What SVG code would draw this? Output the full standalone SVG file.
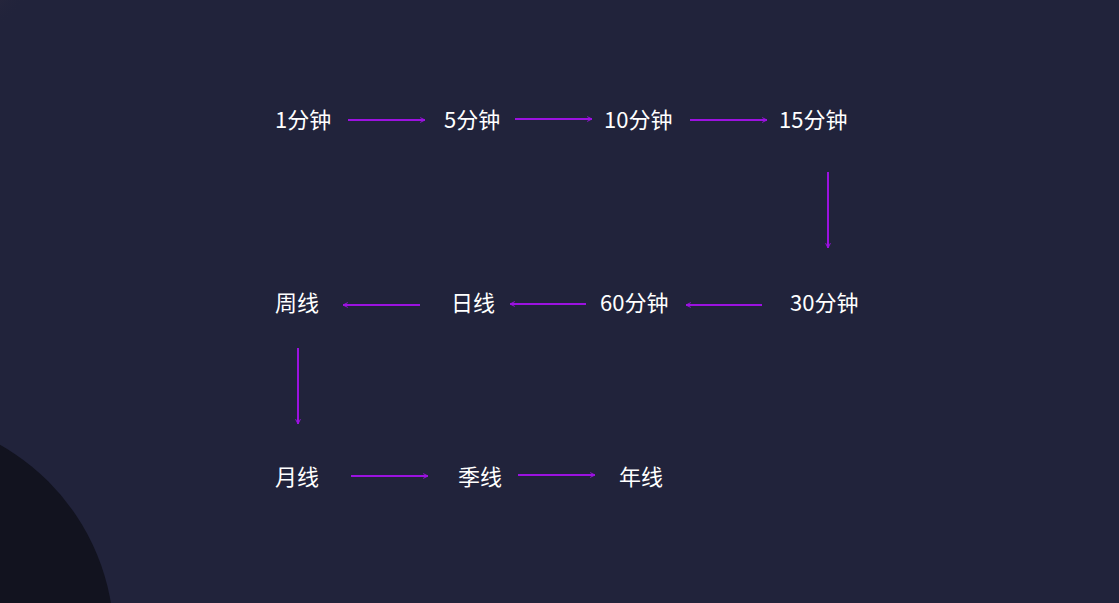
<svg xmlns="http://www.w3.org/2000/svg" width="1119" height="603" viewBox="0 0 1119 603">
<style>
.t{font-family:"Noto Sans CJK SC","Noto Sans",sans-serif;font-size:22px;fill:#ffffff}
.c line{stroke:#9b12e0;stroke-width:2;marker-end:url(#a)}
</style>
<defs><marker id="a" viewBox="0 0 10 10" refX="9" refY="5" markerWidth="6" markerHeight="6" orient="auto" markerUnits="userSpaceOnUse"><path d="M1,1 L9,5 L1,9" fill="none" stroke="#9b12e0" stroke-width="1.6"/></marker>
<radialGradient id="g" cx="0" cy="0" r="1"><stop offset="0" stop-color="#6a4a4a" stop-opacity="0.6"/><stop offset="1" stop-color="#21233b" stop-opacity="0"/></radialGradient></defs>
<rect width="1119" height="603" fill="#21233b"/>
<circle cx="0" cy="0" r="35" fill="url(#g)"/>
<circle cx="-110" cy="640" r="224" fill="#12131f"/>
<g class="c">
<line x1="348" y1="120" x2="425" y2="120"/>
<line x1="515" y1="119" x2="592" y2="119"/>
<line x1="690" y1="120" x2="767" y2="120"/>
<line x1="828" y1="172" x2="828" y2="248"/>
<line x1="762" y1="305" x2="686" y2="305"/>
<line x1="586" y1="304" x2="510" y2="304"/>
<line x1="420" y1="305" x2="343" y2="305"/>
<line x1="298" y1="348" x2="298" y2="424"/>
<line x1="351" y1="476" x2="428" y2="476"/>
<line x1="518" y1="475" x2="595" y2="475"/>
</g>
<g id="n1"><text class="t" x="275" y="128">1分钟</text></g>
<g id="n2"><text class="t" x="444" y="128">5分钟</text></g>
<g id="n3"><text class="t" x="604" y="128">10分钟</text></g>
<g id="n4"><text class="t" x="779" y="128">15分钟</text></g>
<g id="n5"><text class="t" x="790" y="311">30分钟</text></g>
<g id="n6"><text class="t" x="600" y="311">60分钟</text></g>
<g id="n7"><text class="t" x="451" y="311">日线</text></g>
<g id="n8"><text class="t" x="275" y="311">周线</text></g>
<g id="n9"><text class="t" x="275" y="485">月线</text></g>
<g id="n10"><text class="t" x="458" y="485">季线</text></g>
<g id="n11"><text class="t" x="619" y="485">年线</text></g>
</svg>
